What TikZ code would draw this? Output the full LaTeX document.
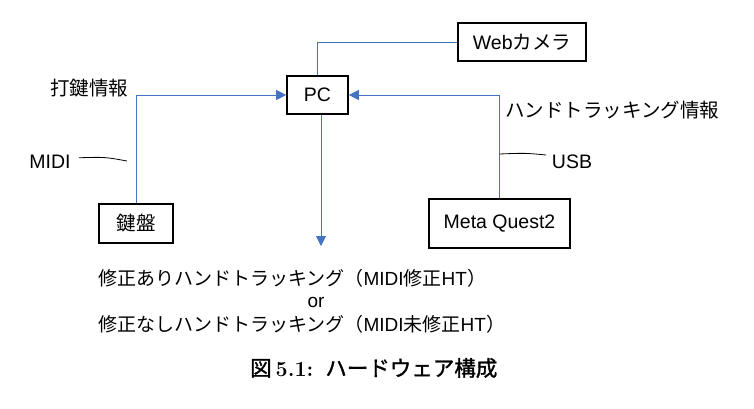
\documentclass[tikz,border=0pt]{standalone}
\usepackage{fontspec}
\newfontfamily\jp{Noto Sans CJK JP}
\newfontfamily\jpfb{Noto Sans CJK JP}[FakeBold=1.3]
\newfontfamily\ar{Liberation Sans}
\usetikzlibrary{arrows.meta}
\definecolor{lineblue}{RGB}{68,114,196}
\tikzset{
  box/.style={draw=black, line width=1.6pt, fill=white, inner sep=0pt, font=\fontsize{19.5}{23}\selectfont},
  conn/.style={draw=lineblue, line width=0.9pt},
  arr/.style={conn, -{Triangle[length=10pt,width=10pt]}},
  lbl/.style={inner sep=0pt, font=\fontsize{19.5}{23}\selectfont},
  btxt/.style={inner sep=0pt, font=\fontsize{19}{23}\selectfont},
  tick/.style={draw=black, line width=0.8pt}
}
\begin{document}
\begin{tikzpicture}[x=1pt,y=-1pt]
\useasboundingbox (0,0) rectangle (754,409);
% boxes
\node[box, minimum width=61pt, minimum height=38pt] (pc) at (317.5,95) {\ar PC};
\node[box, minimum width=74pt, minimum height=39pt] (kb) at (136,223.5) {\jp 鍵盤};
\node[box, minimum width=128pt, minimum height=38pt] (cam) at (522,42) {{\ar Web}{\jp カメラ}};
\node[box, minimum width=141pt, minimum height=49pt] (mq) at (499.5,223.5) {\ar Meta Quest2};
% labels
\node[lbl, anchor=west] (daken) at (50,88) {\jp 打鍵情報};
\node[lbl, anchor=west] (htinfo) at (505,110) {\jp ハンドトラッキング情報};
\node[lbl] (midi) at (50,162) {\ar MIDI};
\node[lbl] (usb) at (572,162) {\ar USB};
\node[btxt, anchor=west] (out1) at (98,278) {{\jp 修正ありハンドトラッキング（}{\ar MIDI}{\jp 修正}{\ar HT}{\jp ）}};
\node[btxt] (or) at (316,302) {\ar or};
\node[btxt, anchor=west] (out2) at (98,324) {{\jp 修正なしハンドトラッキング（}{\ar MIDI}{\jp 未修正}{\ar HT}{\jp ）}};
\node[inner sep=0pt, anchor=west, font=\fontsize{21.5}{25}\selectfont] (cap) at (250,368) {{\jpfb 図}\hspace{4pt}{\bfseries 5.1:}\hspace{12pt}{\jpfb ハードウェア構成}};
% connectors
\coordinate (outend) at (321,246);
\draw[arr] (kb.north) |- (pc.west);
\draw[arr] (mq.north) |- (pc.east);
\draw[conn] (pc.north) |- (cam.west);
\draw[arr] (pc.south -| outend) -- (outend);
% label ticks
\coordinate (m1) at (127,161);
\draw[tick, shorten <=8pt] (midi.east |- 0,158) .. controls (105,157) .. (m1);
\coordinate (u0) at (499.5,154);
\coordinate (u1) at (546,155);
\draw[tick] (u0) .. controls (525,153) .. (u1);
\end{tikzpicture}
\end{document}
